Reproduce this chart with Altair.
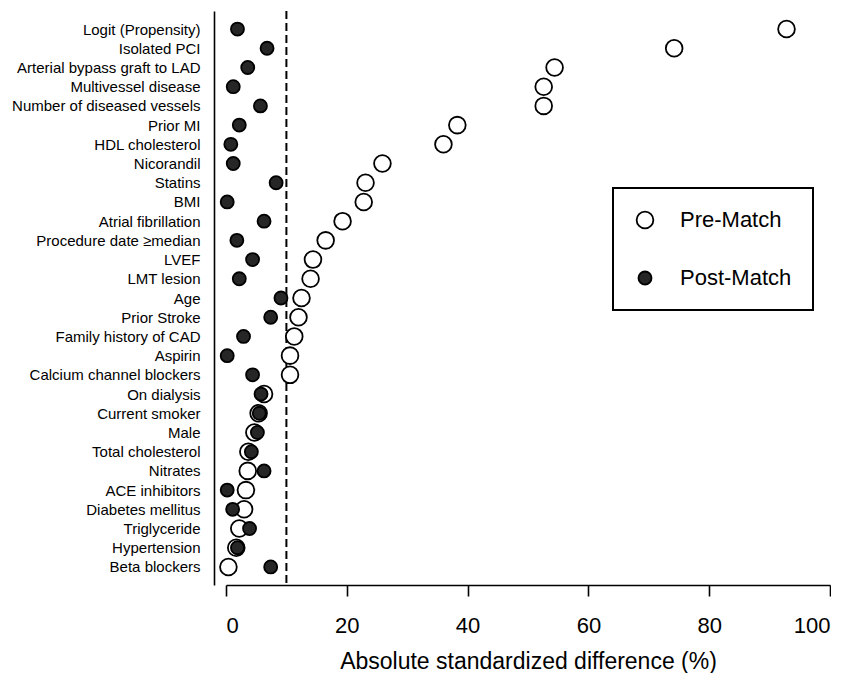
import altair as alt
import pandas as pd

categories = [
    "Logit (Propensity)", "Isolated PCI", "Arterial bypass graft to LAD",
    "Multivessel disease", "Number of diseased vessels", "Prior MI",
    "HDL cholesterol", "Nicorandil", "Statins", "BMI", "Atrial fibrillation",
    "Procedure date \u2265median", "LVEF", "LMT lesion", "Age", "Prior Stroke",
    "Family history of CAD", "Aspirin", "Calcium channel blockers",
    "On dialysis", "Current smoker", "Male", "Total cholesterol", "Nitrates",
    "ACE inhibitors", "Diabetes mellitus", "Triglyceride", "Hypertension",
    "Beta blockers",
]
pre_match = [92.8, 74.2, 54.4, 52.6, 52.6, 38.3, 36.0, 25.9, 23.1, 22.8, 19.3,
             16.5, 14.4, 14.0, 12.5, 12.0, 11.3, 10.6, 10.6, 6.3, 5.4, 4.7,
             3.7, 3.6, 3.3, 3.0, 2.2, 1.7, 0.4]
post_match = [1.9, 6.8, 3.6, 1.2, 5.7, 2.2, 0.8, 1.2, 8.3, 0.2, 6.3, 1.8, 4.4,
              2.2, 9.1, 7.4, 2.9, 0.2, 4.4, 5.8, 5.5, 5.2, 4.2, 6.3, 0.2, 1.1,
              3.9, 1.9, 7.4]
groups = ["Pre-Match", "Post-Match"]
x_ticks = [0, 20, 40, 60, 80, 100]
threshold = [10]

rows = []
for c, v in zip(categories, pre_match):
    rows.append({"var": c, "diff": v, "group": groups[0]})
for c, v in zip(categories, post_match):
    rows.append({"var": c, "diff": v, "group": groups[1]})
df = pd.DataFrame(rows)

FONT = "Liberation Sans"

x_enc = alt.X(
    "diff:Q",
    scale=alt.Scale(domain=[0, 100], nice=False, zero=False),
    axis=alt.Axis(
        values=x_ticks, format="d", grid=False,
        title="Absolute standardized difference (%)",
        domainColor="black", domainWidth=1.6,
        tickColor="black", tickWidth=1.6, tickSize=11,
        labelFont=FONT, labelFontSize=22, labelColor="black",
        labelBaseline="alphabetic", labelPadding=36,
        titleFont=FONT, titleFontSize=23, titleFontWeight="normal",
        titleColor="black", titleBaseline="alphabetic", titleY=83,
    ),
)

y_enc = alt.Y(
    "var:N", sort=categories,
    scale=alt.Scale(type="point", padding=0.94),
    axis=alt.Axis(
        title=None, ticks=False, tickSize=0, offset=12, labelPadding=14,
        labelFont=FONT, labelFontSize=15, labelColor="black", labelLimit=400,
        domainColor="black", domainWidth=1.6, grid=False,
    ),
)

legend = alt.Legend(
    title=None, orient="none", legendX=387, legendY=177,
    strokeColor="black", padding=21,
    labelFont=FONT, labelFontSize=22, labelColor="black",
    labelOffset=24, rowPadding=35,
    symbolStrokeColor="black", symbolStrokeWidth=1.8,
)

points = alt.Chart(df).mark_point(
    filled=True, shape="circle", strokeWidth=1.8, opacity=1
).encode(
    x=x_enc,
    y=y_enc,
    fill=alt.Fill("group:N", scale=alt.Scale(domain=groups, range=["white", "#262626"]), legend=legend),
    stroke=alt.Stroke("group:N", scale=alt.Scale(domain=groups, range=["black", "black"]), legend=legend),
    size=alt.Size("group:N", scale=alt.Scale(domain=groups, range=[280, 170]), legend=legend),
)

rule = alt.Chart(pd.DataFrame({"x": threshold})).mark_rule(
    strokeDash=[8, 4], strokeWidth=2, color="black"
).encode(x=alt.X("x:Q"))

chart = alt.layer(rule, points).properties(
    width=604, height=574,
    padding={"left": 3, "top": 2, "right": 0, "bottom": 0},
    background="white",
).configure_view(stroke=None).configure_legend(strokeWidth=2)

chart.save("out.html", embed_options={"renderer": "svg", "actions": False})
